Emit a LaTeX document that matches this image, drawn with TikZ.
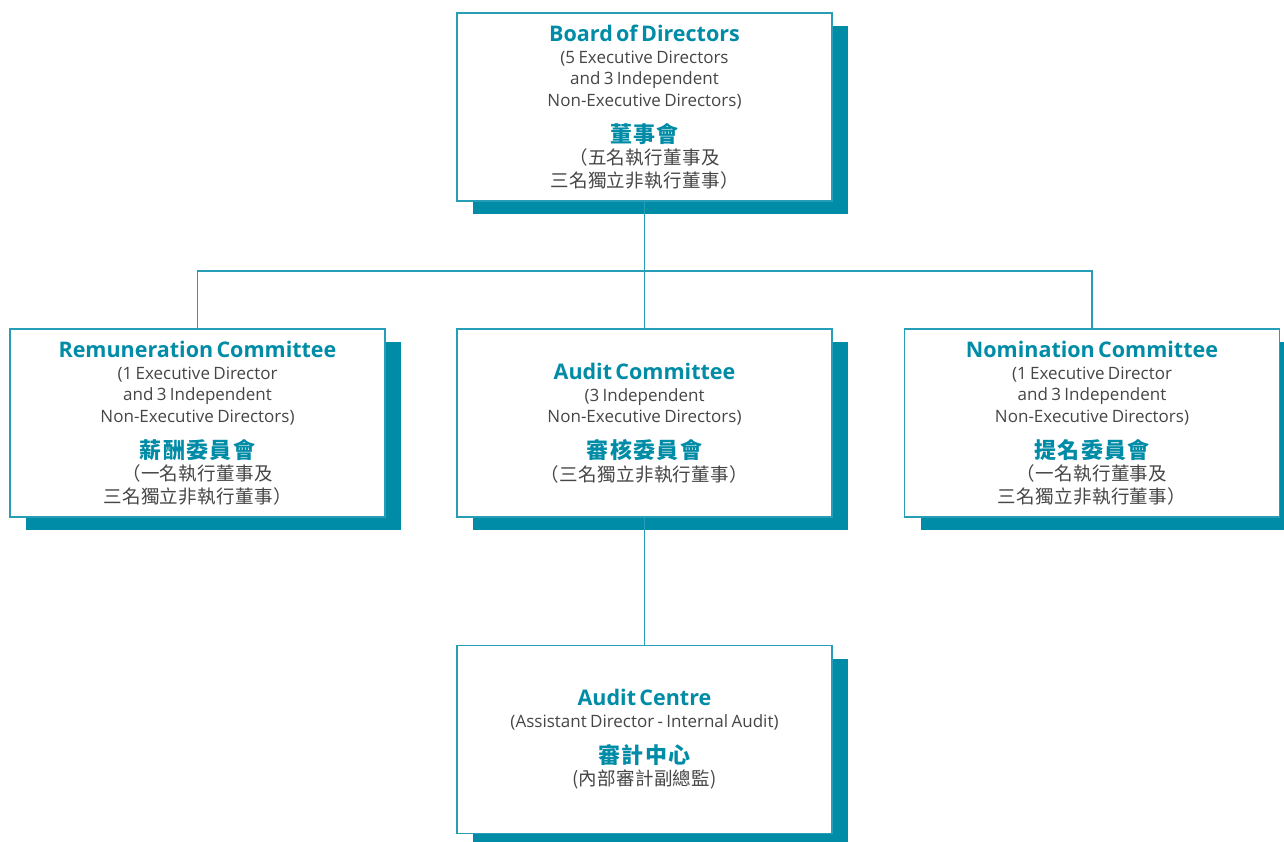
\documentclass[tikz,border=0pt]{standalone}
\usepackage{fontspec}
\setmainfont{Open Sans}
\newfontfamily\cjkfont[LetterSpace=2]{Noto Sans CJK TC}
\newfontfamily\cjkhead[LetterSpace=6]{Noto Sans CJK TC}
\usetikzlibrary{shadows}

\definecolor{orgteal}{RGB}{0,140,166}
\definecolor{orgline}{RGB}{38,158,184}
\definecolor{orgtext}{RGB}{70,70,70}

\newcommand{\orghead}[1]{{\fontsize{21.5}{22}\selectfont\bfseries\color{orgteal}#1\par}}
\newcommand{\orgbody}[1]{{\fontsize{17}{21.5}\selectfont\color{orgtext}#1\par}}
\newcommand{\orgzhhead}[1]{\vspace{12pt}{\cjkhead\bfseries\fontsize{22}{24}\selectfont\color{orgteal}#1\par}}
\newcommand{\orgzhbody}[1]{{\cjkfont\fontsize{18.5}{22.5}\selectfont\color{orgtext}#1\par}}

\begin{document}
\begin{tikzpicture}[x=1pt, y=-1pt,
    orgbox/.style={draw=orgline, line width=1.2pt, fill=white,
      minimum width=375pt, minimum height=188pt, text width=370pt,
      align=center, inner sep=0pt,
      drop shadow={shadow xshift=16pt, shadow yshift=-13pt, fill=orgteal, opacity=1}},
    orglink/.style={draw=orgline, line width=1.2pt}]
    \useasboundingbox (0,0) rectangle (1284,842);

    % boxes
    \node[orgbox] (board) at (644.5,107) {%
      \orghead{Board of Directors}
      \orgbody{(5 Executive Directors\\and 3 Independent\\Non-Executive Directors)}
      \orgzhhead{董事會}
      \orgzhbody{（五名執行董事及\\三名獨立非執行董事）}};
    \node[orgbox] (remun) at (197.5,423) {%
      \orghead{Remuneration Committee}
      \orgbody{(1 Executive Director\\and 3 Independent\\Non-Executive Directors)}
      \orgzhhead{薪酬委員會}
      \orgzhbody{（一名執行董事及\\三名獨立非執行董事）}};
    \node[orgbox] (audit) at (644.5,423) {%
      \orghead{Audit Committee}
      \orgbody{(3 Independent\\Non-Executive Directors)}
      \orgzhhead{審核委員會}
      \orgzhbody{（三名獨立非執行董事）}};
    \node[orgbox] (nomin) at (1092,423) {%
      \orghead{Nomination Committee}
      \orgbody{(1 Executive Director\\and 3 Independent\\Non-Executive Directors)}
      \orgzhhead{提名委員會}
      \orgzhbody{（一名執行董事及\\三名獨立非執行董事）}};
    \node[orgbox] (centre) at (644.5,739.5) {%
      \orghead{Audit Centre}
      \orgbody{(Assistant Director - Internal Audit)}
      \orgzhhead{審計中心}
      \orgzhbody{(內部審計副總監)}};

    % connectors
    \coordinate (bus) at (644.5,271);
    \draw[orglink] (board.south) -- (bus);
    \draw[orglink] (remun.north) |- (bus) -| (nomin.north);
    \draw[orglink] (bus) -- (audit.north);
    \draw[orglink] (audit.south) -- (centre.north);
\end{tikzpicture}
\end{document}
